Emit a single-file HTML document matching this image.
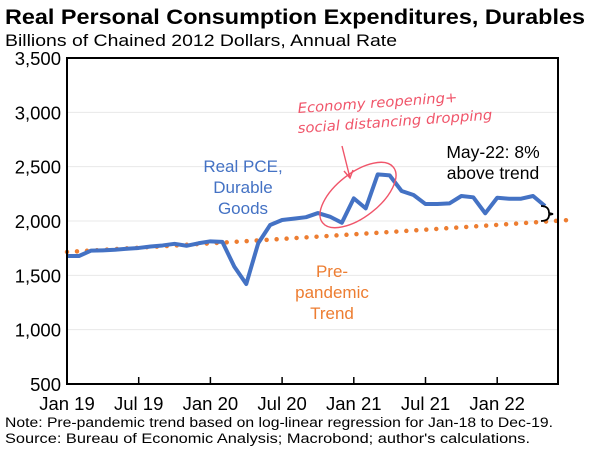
<!DOCTYPE html>
<html><head><meta charset="utf-8"><style>
body{margin:0;background:#fff;}
svg{display:block;font-family:"Liberation Sans",Arial,sans-serif;}
</style></head><body>
<svg id="chart" width="600" height="451">
<text x="5" y="24" font-size="21" font-weight="bold" textLength="580" lengthAdjust="spacingAndGlyphs">Real Personal Consumption Expenditures, Durables</text>
<text x="5" y="46" font-size="17" textLength="392" lengthAdjust="spacingAndGlyphs">Billions of Chained 2012 Dollars, Annual Rate</text>
<g id="grid"></g>
<g id="yticks"></g>
<g id="xticks"></g>
<g id="series"></g>
<rect x="67" y="58" width="491" height="326" fill="none" stroke="#000" stroke-width="2"/>
<text x="243" y="172" font-size="17" fill="#4472c4" text-anchor="middle"><tspan x="243">Real PCE,</tspan><tspan x="243" dy="21">Durable</tspan><tspan x="243" dy="21">Goods</tspan></text>
<text x="332" y="277" font-size="17" fill="#ed7d31" text-anchor="middle"><tspan x="332">Pre-</tspan><tspan x="332" dy="21">pandemic</tspan><tspan x="332" dy="21">Trend</tspan></text>
<text x="493" y="158" font-size="17.5" text-anchor="middle"><tspan x="493">May-22: 8%</tspan><tspan x="493" dy="21">above trend</tspan></text>
<path d="M541,206 Q549,206 549,213 L553,214 L549,215 Q549,221 541,221" fill="none" stroke="#000" stroke-width="1.8"/>
<g fill="none" stroke="#f0556a" stroke-width="1.4">
<ellipse cx="358" cy="195" rx="45" ry="22" transform="rotate(-38 358 195)"/>
<path d="M342,146 L350,178 M344,171 L350,178 L353,170"/>
</g>
<text x="298" y="113" font-size="14" fill="#f0556a" font-style="italic" font-family="'DejaVu Sans',sans-serif" textLength="160" lengthAdjust="spacingAndGlyphs" transform="rotate(-4 298 113)">Economy reopening+</text>
<text x="298" y="133" font-size="14" fill="#f0556a" font-style="italic" font-family="'DejaVu Sans',sans-serif" textLength="195" lengthAdjust="spacingAndGlyphs" transform="rotate(-4 298 133)">social distancing dropping</text>
<text x="5" y="427" font-size="13.5" textLength="548" lengthAdjust="spacingAndGlyphs">Note: Pre-pandemic trend based on log-linear regression for Jan-18 to Dec-19.</text>
<text x="5" y="443" font-size="13.5" textLength="525" lengthAdjust="spacingAndGlyphs">Source: Bureau of Economic Analysis; Macrobond; author's calculations.</text>
</svg>
<script>
const yTicks=[500,1000,1500,2000,2500,3000,3500];
const yTickLabels=["500","1,000","1,500","2,000","2,500","3,000","3,500"];
const xTickMonths=[0,6,12,18,24,30,36];
const xTickLabels=["Jan 19","Jul 19","Jan 20","Jul 20","Jan 21","Jul 21","Jan 22"];
const pce=[1678,1678,1727,1730,1735,1745,1752,1765,1775,1790,1772,1795,1813,1808,1580,1420,1795,1963,2009,2022,2035,2073,2040,1984,2208,2116,2429,2420,2276,2239,2156,2156,2162,2230,2218,2071,2214,2205,2205,2230,2138];
const trendStart=1715;
const trendMonthlyGrowth=0.00377;
const trendMonths=42;
const NS="http://www.w3.org/2000/svg";
const X=m=>67+m*11.95;
const Y=v=>384-(v-500)*(326/3000);
function mk(tag,attrs,parent){const e=document.createElementNS(NS,tag);for(const k in attrs)e.setAttribute(k,attrs[k]);parent.appendChild(e);return e;}
const grid=document.getElementById('grid'),yt=document.getElementById('yticks'),xt=document.getElementById('xticks'),ser=document.getElementById('series');
yTicks.forEach((v,i)=>{
 if(v>500&&v<3500){const l=mk('line',{x1:67,x2:558,y1:Y(v),y2:Y(v),stroke:'#e8e8e8','stroke-width':1},grid);
 
 }
 const t=mk('text',{x:61,y:Y(v)+7,'font-size':18.5,'text-anchor':'end'},yt);t.textContent=yTickLabels[i];
 
 
});
xTickMonths.forEach((m,i)=>{
 if(m>0){const l=mk('line',{x1:X(m),x2:X(m),y1:384,y2:377,stroke:'#000','stroke-width':1.5},xt);
 
 }
 const t=mk('text',{x:X(m),y:410,'font-size':18.5,'text-anchor':'middle'},xt);t.textContent=xTickLabels[i];
 
 
});
let tp=[];for(let m=0;m<=trendMonths;m++){tp.push(X(m)+','+Y(trendStart*Math.exp(trendMonthlyGrowth*m)));}
const tl=mk('polyline',{points:tp.join(' '),fill:'none',stroke:'#ed7d31','stroke-width':4.5,'stroke-linecap':'round','stroke-dasharray':'0 10'},ser);


const pl=mk('polyline',{points:pce.map((v,i)=>X(i)+','+Y(v)).join(' '),fill:'none',stroke:'#4472c4','stroke-width':4,'stroke-linejoin':'round'},ser);


</script>
</body></html>
